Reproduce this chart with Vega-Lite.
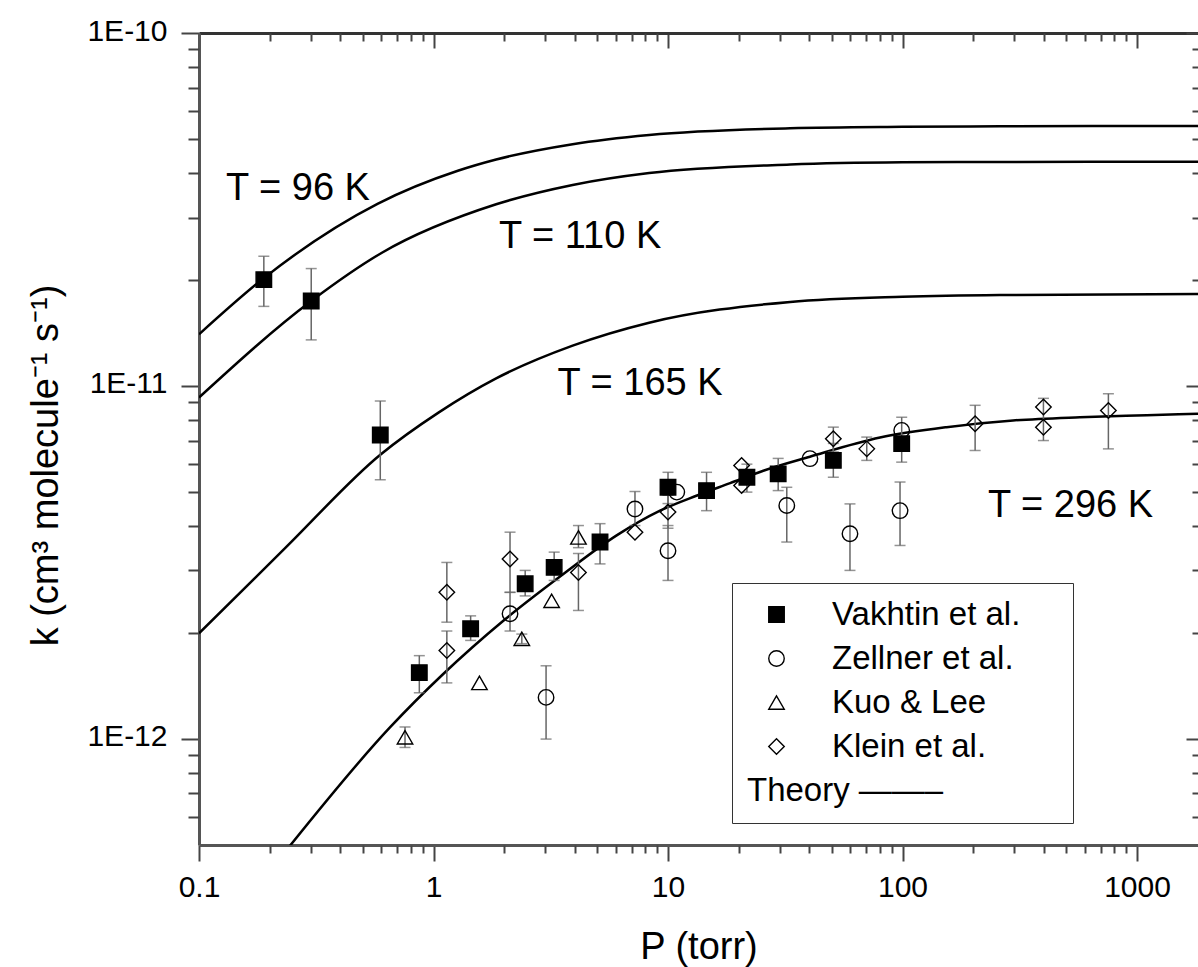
{
  "$schema": "https://vega.github.io/schema/vega-lite/v6.json",
  "width": 999,
  "height": 812,
  "autosize": {"type": "none"},
  "padding": {"left": 199, "top": 33, "right": 0, "bottom": 122},
  "background": "white",
  "config": {
    "font": "Liberation Sans",
    "view": {"stroke": null},
    "axis": {"grid": false, "domainColor": "#555", "domainWidth": 3, "tickColor": "#444", "tickWidth": 2, "labelColor": "black", "titleColor": "black", "titleFontWeight": "normal", "labelFont": "Liberation Sans", "titleFont": "Liberation Sans"}
  },
  "datasets": {
    "theory": [
      {"T": "96 K", "P": 0.1, "k": 1.40e-11}, {"T": "96 K", "P": 0.189, "k": 2.02e-11}, {"T": "96 K", "P": 0.577, "k": 3.28e-11}, {"T": "96 K", "P": 1.27, "k": 4.07e-11}, {"T": "96 K", "P": 1.85, "k": 4.38e-11}, {"T": "96 K", "P": 3.92, "k": 4.84e-11}, {"T": "96 K", "P": 8.31, "k": 5.14e-11}, {"T": "96 K", "P": 33.2, "k": 5.37e-11}, {"T": "96 K", "P": 100, "k": 5.42e-11}, {"T": "96 K", "P": 260, "k": 5.44e-11}, {"T": "96 K", "P": 1820, "k": 5.45e-11},
      {"T": "110 K", "P": 0.1, "k": 9.27e-12}, {"T": "110 K", "P": 0.301, "k": 1.74e-11}, {"T": "110 K", "P": 0.6, "k": 2.38e-11}, {"T": "110 K", "P": 1.85, "k": 3.27e-11}, {"T": "110 K", "P": 3.92, "k": 3.71e-11}, {"T": "110 K", "P": 8.31, "k": 4.01e-11}, {"T": "110 K", "P": 33.2, "k": 4.24e-11}, {"T": "110 K", "P": 100, "k": 4.30e-11}, {"T": "110 K", "P": 260, "k": 4.31e-11}, {"T": "110 K", "P": 1820, "k": 4.32e-11},
      {"T": "165 K", "P": 0.1, "k": 1.99e-12}, {"T": "165 K", "P": 0.234, "k": 3.48e-12}, {"T": "165 K", "P": 0.593, "k": 6.38e-12}, {"T": "165 K", "P": 1.05, "k": 8.4e-12}, {"T": "165 K", "P": 1.85, "k": 1.05e-11}, {"T": "165 K", "P": 3.92, "k": 1.30e-11}, {"T": "165 K", "P": 8.31, "k": 1.51e-11}, {"T": "165 K", "P": 33.2, "k": 1.73e-11}, {"T": "165 K", "P": 100, "k": 1.79e-11}, {"T": "165 K", "P": 260, "k": 1.81e-11}, {"T": "165 K", "P": 1820, "k": 1.82e-11},
      {"T": "296 K", "P": 0.244, "k": 4.97e-13}, {"T": "296 K", "P": 0.652, "k": 1.077e-12}, {"T": "296 K", "P": 1.1, "k": 1.526e-12}, {"T": "296 K", "P": 1.985, "k": 2.16e-12}, {"T": "296 K", "P": 3.58, "k": 2.93e-12}, {"T": "296 K", "P": 6.04, "k": 3.77e-12}, {"T": "296 K", "P": 9.25, "k": 4.43e-12}, {"T": "296 K", "P": 13.3, "k": 4.89e-12}, {"T": "296 K", "P": 18.4, "k": 5.3e-12}, {"T": "296 K", "P": 25.5, "k": 5.75e-12}, {"T": "296 K", "P": 40.3, "k": 6.3e-12}, {"T": "296 K", "P": 80.2, "k": 7.14e-12}, {"T": "296 K", "P": 154, "k": 7.64e-12}, {"T": "296 K", "P": 296, "k": 7.98e-12}, {"T": "296 K", "P": 571, "k": 8.15e-12}, {"T": "296 K", "P": 1100, "k": 8.26e-12}, {"T": "296 K", "P": 1820, "k": 8.34e-12}
    ],
    "obs": [
      {"src": "Vakhtin et al.", "P": 0.189, "k": 2.00e-11, "lo": 1.68e-11, "hi": 2.33e-11},
      {"src": "Vakhtin et al.", "P": 0.301, "k": 1.74e-11, "lo": 1.35e-11, "hi": 2.15e-11},
      {"src": "Vakhtin et al.", "P": 0.593, "k": 7.26e-12, "lo": 5.42e-12, "hi": 9.06e-12},
      {"src": "Vakhtin et al.", "P": 0.87, "k": 1.54e-12, "lo": 1.35e-12, "hi": 1.72e-12},
      {"src": "Vakhtin et al.", "P": 1.44, "k": 2.05e-12, "lo": 1.90e-12, "hi": 2.23e-12},
      {"src": "Vakhtin et al.", "P": 2.46, "k": 2.75e-12, "lo": 2.54e-12, "hi": 3.00e-12},
      {"src": "Vakhtin et al.", "P": 3.27, "k": 3.06e-12, "lo": 2.81e-12, "hi": 3.38e-12},
      {"src": "Vakhtin et al.", "P": 5.13, "k": 3.61e-12, "lo": 3.13e-12, "hi": 4.07e-12},
      {"src": "Vakhtin et al.", "P": 10.0, "k": 5.16e-12, "lo": 4.64e-12, "hi": 5.69e-12},
      {"src": "Vakhtin et al.", "P": 14.6, "k": 5.05e-12, "lo": 4.43e-12, "hi": 5.69e-12},
      {"src": "Vakhtin et al.", "P": 21.7, "k": 5.51e-12, "lo": 5.0e-12, "hi": 6.0e-12},
      {"src": "Vakhtin et al.", "P": 29.5, "k": 5.63e-12, "lo": 5.05e-12, "hi": 6.23e-12},
      {"src": "Vakhtin et al.", "P": 50.7, "k": 6.15e-12, "lo": 5.51e-12, "hi": 6.87e-12},
      {"src": "Vakhtin et al.", "P": 99.2, "k": 6.86e-12, "lo": 6.08e-12, "hi": 8.15e-12},
      {"src": "Zellner et al.", "P": 2.12, "k": 2.26e-12, "lo": 2.02e-12, "hi": 2.60e-12},
      {"src": "Zellner et al.", "P": 3.02, "k": 1.31e-12, "lo": 9.98e-13, "hi": 1.61e-12},
      {"src": "Zellner et al.", "P": 7.23, "k": 4.48e-12, "lo": 4.02e-12, "hi": 5.02e-12},
      {"src": "Zellner et al.", "P": 10.0, "k": 3.41e-12, "lo": 2.81e-12, "hi": 4.02e-12},
      {"src": "Zellner et al.", "P": 10.9, "k": 5.00e-12},
      {"src": "Zellner et al.", "P": 32.1, "k": 4.58e-12, "lo": 3.61e-12, "hi": 5.16e-12},
      {"src": "Zellner et al.", "P": 40.3, "k": 6.22e-12},
      {"src": "Zellner et al.", "P": 59.7, "k": 3.81e-12, "lo": 3.00e-12, "hi": 4.63e-12},
      {"src": "Zellner et al.", "P": 97.6, "k": 4.43e-12, "lo": 3.53e-12, "hi": 5.34e-12},
      {"src": "Zellner et al.", "P": 99.2, "k": 7.48e-12},
      {"src": "Kuo & Lee", "P": 0.756, "k": 1.01e-12, "lo": 9.45e-13, "hi": 1.08e-12},
      {"src": "Kuo & Lee", "P": 1.57, "k": 1.44e-12},
      {"src": "Kuo & Lee", "P": 2.38, "k": 1.92e-12, "lo": 1.86e-12, "hi": 1.98e-12},
      {"src": "Kuo & Lee", "P": 3.19, "k": 2.46e-12},
      {"src": "Kuo & Lee", "P": 4.15, "k": 3.72e-12, "lo": 3.48e-12, "hi": 4.02e-12},
      {"src": "Klein et al.", "P": 1.14, "k": 1.78e-12, "lo": 1.44e-12, "hi": 2.02e-12},
      {"src": "Klein et al.", "P": 1.14, "k": 2.60e-12, "lo": 2.14e-12, "hi": 3.16e-12},
      {"src": "Klein et al.", "P": 2.12, "k": 3.23e-12, "lo": 2.60e-12, "hi": 3.85e-12},
      {"src": "Klein et al.", "P": 4.15, "k": 2.96e-12, "lo": 2.31e-12, "hi": 3.35e-12},
      {"src": "Klein et al.", "P": 7.23, "k": 3.85e-12},
      {"src": "Klein et al.", "P": 10.0, "k": 4.39e-12, "lo": 3.95e-12, "hi": 4.9e-12},
      {"src": "Klein et al.", "P": 20.6, "k": 5.95e-12},
      {"src": "Klein et al.", "P": 20.6, "k": 5.22e-12},
      {"src": "Klein et al.", "P": 50.7, "k": 7.08e-12, "lo": 6.5e-12, "hi": 7.64e-12},
      {"src": "Klein et al.", "P": 70.4, "k": 6.63e-12, "lo": 6.15e-12, "hi": 7.16e-12},
      {"src": "Klein et al.", "P": 204, "k": 7.81e-12, "lo": 6.56e-12, "hi": 8.81e-12},
      {"src": "Klein et al.", "P": 399, "k": 8.71e-12},
      {"src": "Klein et al.", "P": 399, "k": 7.64e-12, "lo": 7.0e-12, "hi": 9.22e-12},
      {"src": "Klein et al.", "P": 755, "k": 8.52e-12, "lo": 6.63e-12, "hi": 9.50e-12}
    ],
    "ann": [
      {"label": "T = 96 K", "P": 0.1303, "k": 3.62e-11},
      {"label": "T = 110 K", "P": 1.902, "k": 2.64e-11},
      {"label": "T = 165 K", "P": 3.377, "k": 1.01e-11},
      {"label": "T = 296 K", "P": 231.5, "k": 4.56e-12}
    ]
  },
  "resolve": {"axis": {"x": "independent", "y": "independent"}},
  "layer": [
    {
      "data": {"name": "theory"},
      "mark": {"type": "line", "color": "black", "strokeWidth": 2.5, "interpolate": "monotone", "clip": true},
      "encoding": {
        "x": {"field": "P", "type": "quantitative", "scale": {"type": "log", "domain": [0.1, 1820], "nice": false},
          "axis": {"orient": "bottom", "values": [0.1, 1, 10, 100, 1000], "format": "~g", "tickSize": 16, "labelPadding": 11, "labelFontSize": 30, "labelFlush": false, "labelOverlap": false, "title": "P (torr)", "titleFontSize": 38, "titleY": 113, "titleBaseline": "alphabetic"}},
        "y": {"field": "k", "type": "quantitative", "scale": {"type": "log", "domain": [5e-13, 1e-10], "nice": false},
          "axis": {"orient": "left", "values": [1e-12, 1e-11, 1e-10], "labelExpr": "'1E' + round(log(datum.value)/LN10)", "tickSize": 18, "labelPadding": 14, "labelFontSize": 30, "labelFlush": false, "labelOverlap": false, "labelOffset": -2, "title": "k (cm³ molecule⁻¹ s⁻¹)", "titleFontSize": 38, "titleX": -142, "titleY": 432, "titleAngle": 270, "titleBaseline": "alphabetic", "titleAlign": "center"}},
        "detail": {"field": "T", "type": "nominal"}
      }
    },
    {
      "data": {"name": "obs"},
      "transform": [{"filter": "isValid(datum.lo)"}],
      "mark": {"type": "rule", "color": "#666", "strokeWidth": 1.5},
      "encoding": {
        "x": {"field": "P", "type": "quantitative", "scale": {"type": "log", "domain": [0.1, 1820], "nice": false},
          "axis": {"orient": "bottom", "values": [0.2,0.3,0.4,0.5,0.6,0.7,0.8,0.9,2,3,4,5,6,7,8,9,20,30,40,50,60,70,80,90,200,300,400,500,600,700,800,900], "tickSize": 8, "labels": false, "domain": false, "title": null}},
        "y": {"field": "lo", "type": "quantitative", "scale": {"type": "log", "domain": [5e-13, 1e-10], "nice": false},
          "axis": {"orient": "left", "values": [6e-13,7e-13,8e-13,9e-13,2e-12,3e-12,4e-12,5e-12,6e-12,7e-12,8e-12,9e-12,2e-11,3e-11,4e-11,5e-11,6e-11,7e-11,8e-11,9e-11], "tickSize": 11, "labels": false, "domain": false, "title": null}},
        "y2": {"field": "hi"}
      }
    },
    {
      "data": {"name": "obs"},
      "transform": [{"filter": "isValid(datum.lo)"}],
      "mark": {"type": "tick", "orient": "horizontal", "size": 11, "thickness": 1.5, "color": "#666"},
      "encoding": {
        "x": {"field": "P", "type": "quantitative", "scale": {"type": "log", "domain": [0.1, 1820], "nice": false},
          "axis": {"orient": "top", "values": [0.1, 1, 10, 100, 1000], "tickSize": -15, "labels": false, "domain": true, "domainColor": "#333", "title": null}},
        "y": {"field": "lo", "type": "quantitative", "scale": {"type": "log", "domain": [5e-13, 1e-10], "nice": false},
          "axis": {"orient": "right", "values": [1e-12, 1e-11, 1e-10], "tickSize": -12, "labels": false, "domain": false, "title": null}}
      }
    },
    {
      "data": {"name": "obs"},
      "transform": [{"filter": "isValid(datum.hi)"}],
      "mark": {"type": "tick", "orient": "horizontal", "size": 11, "thickness": 1.5, "color": "#666"},
      "encoding": {
        "x": {"field": "P", "type": "quantitative", "scale": {"type": "log", "domain": [0.1, 1820], "nice": false},
          "axis": {"orient": "top", "values": [0.2,0.3,0.4,0.5,0.6,0.7,0.8,0.9,2,3,4,5,6,7,8,9,20,30,40,50,60,70,80,90,200,300,400,500,600,700,800,900], "tickSize": -8, "labels": false, "domain": false, "title": null}},
        "y": {"field": "hi", "type": "quantitative", "scale": {"type": "log", "domain": [5e-13, 1e-10], "nice": false},
          "axis": {"orient": "right", "values": [6e-13,7e-13,8e-13,9e-13,2e-12,3e-12,4e-12,5e-12,6e-12,7e-12,8e-12,9e-12,2e-11,3e-11,4e-11,5e-11,6e-11,7e-11,8e-11,9e-11], "tickSize": -6, "labels": false, "domain": false, "title": null}}
      }
    },
    {
      "data": {"name": "obs"},
      "mark": {"type": "point", "size": 240, "strokeWidth": 1.4, "opacity": 1},
      "encoding": {
        "x": {"field": "P", "type": "quantitative", "scale": {"type": "log", "domain": [0.1, 1820], "nice": false}, "axis": null},
        "y": {"field": "k", "type": "quantitative", "scale": {"type": "log", "domain": [5e-13, 1e-10], "nice": false}, "axis": null},
        "shape": {"field": "src", "type": "nominal",
          "scale": {"domain": ["Vakhtin et al.", "Zellner et al.", "Kuo & Lee", "Klein et al."], "range": ["square", "circle", "triangle-up", "diamond"]},
          "legend": {"title": "Theory ——–", "titleOrient": "bottom", "titleAnchor": "start", "titleAlign": "left", "titleBaseline": "top", "titleFontSize": 33, "titleFontWeight": "normal", "titleFont": "Liberation Sans", "titleColor": "black", "titleLimit": 600, "titlePadding": 11,
            "orient": "none", "legendX": 533, "legendY": 550, "padding": 15, "strokeColor": "#333", "fillColor": "white",
            "labelFontSize": 33, "labelFont": "Liberation Sans", "labelColor": "black", "labelLimit": 600, "rowPadding": 10,
            "symbolSize": 240, "symbolStrokeWidth": 1.4, "symbolOffset": 13, "labelOffset": 39,
            "labelExpr": "datum.label === 'Vakhtin et al.' ? 'Vakhtin et al.\u00a0\u00a0\u00a0\u00a0\u200b' : datum.label"
          }},
        "fill": {"field": "src", "type": "nominal",
          "scale": {"domain": ["Vakhtin et al.", "Zellner et al.", "Kuo & Lee", "Klein et al."], "range": ["black", "transparent", "transparent", "transparent"]}},
        "stroke": {"field": "src", "type": "nominal",
          "scale": {"domain": ["Vakhtin et al.", "Zellner et al.", "Kuo & Lee", "Klein et al."], "range": ["black", "black", "black", "black"]}}
      }
    },
    {
      "data": {"name": "ann"},
      "mark": {"type": "text", "align": "left", "baseline": "middle", "fontSize": 38, "font": "Liberation Sans", "color": "black"},
      "encoding": {
        "x": {"field": "P", "type": "quantitative", "scale": {"type": "log", "domain": [0.1, 1820], "nice": false}, "axis": null},
        "y": {"field": "k", "type": "quantitative", "scale": {"type": "log", "domain": [5e-13, 1e-10], "nice": false}, "axis": null},
        "text": {"field": "label"}
      }
    }
  ]
}
